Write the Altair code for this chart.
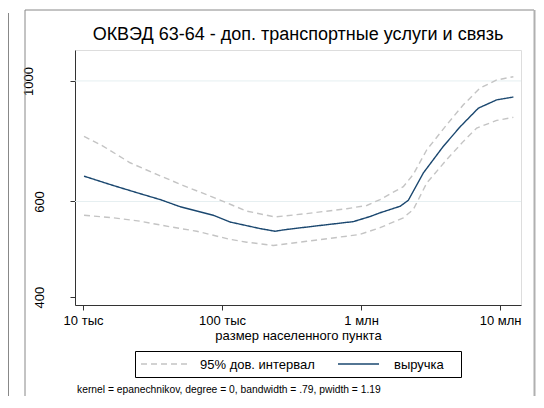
import altair as alt
import pandas as pd

title_text = "ОКВЭД 63-64 - доп. транспортные услуги и связь"
x_title = "размер населенного пункта"
note_text = "kernel = epanechnikov, degree = 0, bandwidth = .79, pwidth = 1.19"
series_ci = "95% дов. интервал"
series_fit = "выручка"

fit_x = [10160, 16520, 24300, 35800, 49900, 86500, 114300, 134600, 187500, 240400, 291700,
         507000, 881000, 1161000, 1371000, 1910000, 2188000, 2805000, 3908000, 5152000,
         6982000, 9462000, 12470000]
fit_y = [668, 642, 623, 605, 587, 566, 550, 545, 535, 529, 533,
         542, 551, 563, 572, 588, 603, 677, 758, 823,
         891, 923, 934]

upper_x = [10160, 14000, 21800, 33900, 52700, 82000, 114300, 150700, 240400, 406000, 789000,
           1099000, 1371000, 2014000, 2377000, 2972000, 4140000, 5445000, 7178000, 9462000, 12470000]
upper_y = [791, 758, 707, 673, 642, 614, 593, 576, 562, 570, 582,
           590, 605, 639, 673, 747, 831, 904, 970, 1004, 1018]

lower_x = [10160, 16520, 25700, 42300, 65800, 114300, 150700, 233900, 406000, 789000,
           984000, 1371000, 2014000, 2377000, 2972000, 4140000, 5445000, 6792000, 9462000, 12470000]
lower_y = [566, 560, 552, 539, 529, 511, 505, 498, 507, 518,
           522, 537, 560, 580, 649, 717, 774, 819, 846, 857]

x_tick_values = [10000, 100000, 1000000, 10000000]
x_tick_labels = ["10 тыс", "100 тыс", "1 млн", "10 млн"]
y_tick_values = [400, 600, 1000]
grid_values = [600, 1000]

rows = []
for xs, ys, s, p in [(upper_x, upper_y, series_ci, "upper"),
                     (lower_x, lower_y, series_ci, "lower"),
                     (fit_x, fit_y, series_fit, "fit")]:
    for a, b in zip(xs, ys):
        rows.append({"x": a, "y": b, "series": s, "part": p})
df = pd.DataFrame(rows)

FONT = "Liberation Sans"
CI_COLOR = "#c4c4c4"
FIT_COLOR = "#1a476f"
CI_DASH = [6, 4]
LINE_W = 1.4

label_expr = " : ".join(
    f"abs(datum.value - {v}) < 1 ? '{l}'" for v, l in zip(x_tick_values, x_tick_labels)
) + " : ''"

x_scale = alt.Scale(type="log", domain=[8750, 14150000], nice=False)
y_scale = alt.Scale(type="log", domain=[387, 1140], nice=False)

grid = alt.Chart(pd.DataFrame({"g": grid_values})).mark_rule(
    color="#e6eff1", strokeWidth=1
).encode(y=alt.Y("g:Q", scale=y_scale))

lines = alt.Chart(df).mark_line(strokeWidth=LINE_W).encode(
    x=alt.X("x:Q", scale=x_scale, axis=alt.Axis(
        values=x_tick_values, labelExpr=label_expr, title=x_title, titleFontSize=13,
        titleFontWeight="normal", titleFont=FONT, titleColor="black", titlePadding=2,
        labelFontSize=13, labelFont=FONT, labelColor="black", labelPadding=4,
        tickSize=5, tickColor="#333", domainColor="#333", grid=False,
        labelFlush=False, labelOverlap=False)),
    y=alt.Y("y:Q", scale=y_scale, axis=alt.Axis(
        values=y_tick_values, format="d", title=None, grid=False, labelAngle=270,
        labelAlign="center", labelBaseline="alphabetic",
        labelPadding={"condition": {"test": "datum.value >= 1000", "value": 38}, "value": 27},
        labelFontSize=13, labelFont=FONT, labelColor="black", tickSize=5,
        tickColor="#333", domainColor="#333", labelOverlap=False, labelBound=False)),
    color=alt.Color("series:N", scale=alt.Scale(domain=[series_ci, series_fit],
                                                range=[CI_COLOR, FIT_COLOR]), legend=None),
    strokeDash=alt.StrokeDash("series:N", scale=alt.Scale(domain=[series_ci, series_fit],
                                                          range=[CI_DASH, [1, 0]]), legend=None),
    detail="part:N",
)

one = pd.DataFrame({"k": [0]})

def vrule(xpix, y1, y2, color, w):
    return alt.Chart(one).mark_rule(color=color, strokeWidth=w).encode(
        x=alt.value(xpix), y=alt.value(y1), y2=alt.value(y2))

def hrule(x1, x2, ypix, color, w, dash=None):
    kw = {"color": color, "strokeWidth": w}
    if dash:
        kw["strokeDash"] = dash
    return alt.Chart(one).mark_rule(**kw).encode(
        x=alt.value(x1), x2=alt.value(x2), y=alt.value(ypix))

def label(text, xpix, ypix, size, align="left"):
    return alt.Chart(pd.DataFrame({"t": [text]})).mark_text(
        align=align, baseline="middle", fontSize=size, font=FONT, color="black"
    ).encode(text="t:N", x=alt.value(xpix), y=alt.value(ypix))

frame = [
    vrule(-66.5, -37, 347, "#888", 1),
    vrule(-50, -40, 346, "#888", 1),
    hrule(-50, 459, -40, "#888", 1),
    vrule(459.5, -40, 346, "#b0b0b0", 2),
]

legend_box = alt.Chart(one).mark_rect(fill="white", stroke="black", strokeWidth=1).encode(
    x=alt.value(60.5), x2=alt.value(386.5), y=alt.value(301.5), y2=alt.value(327.5))
legend_parts = [
    legend_box,
    hrule(66, 115, 314, CI_COLOR, LINE_W, CI_DASH),
    label(series_ci, 125, 314.5, 13),
    hrule(263, 304, 314, FIT_COLOR, LINE_W),
    label(series_fit, 319, 314.5, 13),
]

note = label(note_text, 2, 340, 10.3)
title = label(title_text, 223, -15, 18, align="center")

chart = alt.layer(grid, lines, *frame, *legend_parts, note, title).properties(
    width=446, height=255,
    padding={"left": 67, "top": 42, "right": 15, "bottom": 91},
    autosize=alt.AutoSizeParams(type="none"),
).configure_view(stroke=None).configure(background="white")

chart.save("out.html", embed_options={"renderer": "svg", "actions": False})
